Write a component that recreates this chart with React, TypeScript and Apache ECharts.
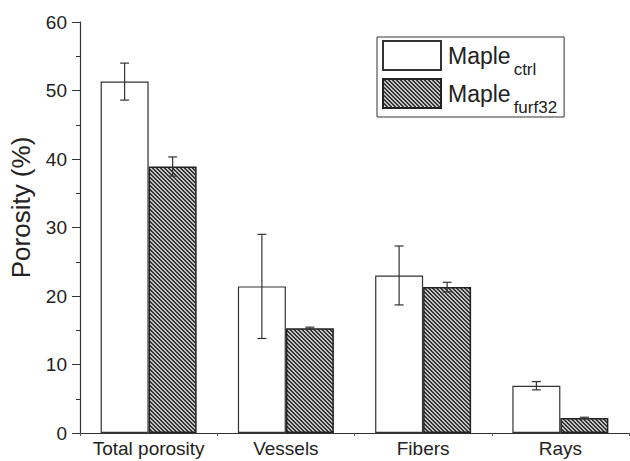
import React, { useEffect, useRef } from "react";
import * as echarts from "echarts";

const categories = ["Total porosity", "Vessels", "Fibers", "Rays"];
const ctrlValues = [51.3, 21.4, 23.0, 6.9];
const ctrlErrors = [2.7, 7.6, 4.3, 0.6];
const furfValues = [38.9, 15.3, 21.3, 2.2];
const furfErrors = [1.4, 0.15, 0.7, 0.1];
const yTicks = { min: 0, max: 60, interval: 10 };

const FONT = "'Liberation Sans', Arial, Helvetica, sans-serif";

function makeHatch(): HTMLCanvasElement {
  const size = 4;
  const c = document.createElement("canvas");
  c.width = size;
  c.height = size;
  const ctx = c.getContext("2d")!;
  const img = ctx.createImageData(size, size);
  for (let y = 0; y < size; y++) {
    for (let x = 0; x < size; x++) {
      const k = (x - y + size * 2) % size;
      const dark = k === 0 || k === 1;
      const v = dark ? 0x33 : 0xc4;
      const i = (y * size + x) * 4;
      img.data[i] = v;
      img.data[i + 1] = v;
      img.data[i + 2] = v;
      img.data[i + 3] = 255;
    }
  }
  ctx.putImageData(img, 0, 0);
  return c;
}

export default function App() {
  const ref = useRef<HTMLDivElement>(null);
  useEffect(() => {
    if (!ref.current) return;
    const chart = echarts.init(ref.current, null, { renderer: "svg" });
    const hatch = makeHatch();
    const barW = 48;

    const errSeries = (vals: number[], errs: number[], offset: number) => ({
      type: "custom",
      z: 10,
      silent: true,
      data: vals.map((v, i) => [i, v, errs[i]]),
      renderItem: (params: any, api: any) => {
        const idx = api.value(0);
        const v = api.value(1);
        const e = api.value(2);
        const x = api.coord([idx, v])[0] + offset;
        const yHi = api.coord([idx, v + e])[1];
        const yLo = api.coord([idx, v - e])[1];
        const cap = 4.5;
        const st = { stroke: "#333", lineWidth: 1.2 };
        return {
          type: "group",
          children: [
            { type: "line", shape: { x1: x, y1: yHi, x2: x, y2: yLo }, style: st },
            { type: "line", shape: { x1: x - cap, y1: yHi, x2: x + cap, y2: yHi }, style: st },
            { type: "line", shape: { x1: x - cap, y1: yLo, x2: x + cap, y2: yLo }, style: st },
          ],
        };
      },
    });

    chart.setOption({
      animation: false,
      backgroundColor: "#ffffff",
      textStyle: { fontFamily: FONT },
      grid: { left: 78, right: 1, top: 22, bottom: 28 },
      legend: {
        data: ["ctrl", "furf32"],
        orient: "vertical",
        left: 377,
        top: 37,
        icon: "rect",
        itemWidth: 58,
        itemHeight: 29,
        itemGap: 0,
        padding: [3, 7, 1, 5],
        borderColor: "#333",
        borderWidth: 1,
        selectedMode: false,
        formatter: (name: string) => `{a|Maple}{b|${name}}`,
        textStyle: {
          rich: {
            a: { fontSize: 23, color: "#222", fontFamily: FONT, lineHeight: 29, padding: [0, 1, 0, 2] },
            b: { fontSize: 17, color: "#222", fontFamily: FONT, verticalAlign: "bottom", lineHeight: 5, padding: [0, 0, -8, 2] },
          },
        },
      },
      xAxis: {
        type: "category",
        data: categories,
        axisLine: { lineStyle: { color: "#333", width: 1.2 } },
        axisTick: { show: true, length: 3, lineStyle: { color: "#555" } },
        axisLabel: { fontSize: 19, color: "#222", margin: 6, fontFamily: FONT, interval: 0 },
      },
      yAxis: {
        type: "value",
        min: yTicks.min,
        max: yTicks.max,
        interval: yTicks.interval,
        name: "Porosity (%)",
        nameLocation: "middle",
        nameGap: 46,
        nameTextStyle: { fontSize: 26, color: "#222", fontFamily: FONT, padding: [0, 0, 0, 40] },
        axisLine: { show: true, lineStyle: { color: "#333", width: 1.2 } },
        axisTick: { show: true, length: 8, lineStyle: { color: "#333" } },
        minorTick: { show: true, splitNumber: 2, length: 4, lineStyle: { color: "#333" } },
        splitLine: { show: false },
        axisLabel: { fontSize: 19, color: "#222", margin: 13, fontFamily: FONT },
      },
      series: [
        {
          name: "ctrl",
          type: "bar",
          data: ctrlValues,
          barWidth: barW,
          barGap: "0%",
          itemStyle: { color: "#ffffff", borderColor: "#333", borderWidth: 1.2 },
        },
        {
          name: "furf32",
          type: "bar",
          data: furfValues,
          barWidth: barW,
          barGap: "0%",
          itemStyle: {
            color: { image: hatch, repeat: "repeat", imageWidth: 4, imageHeight: 4 },
            borderColor: "#222",
            borderWidth: 1.5,
          },
        },
        errSeries(ctrlValues, ctrlErrors, -barW / 2),
        errSeries(furfValues, furfErrors, barW / 2),
      ],
    });
    return () => chart.dispose();
  }, []);
  return <div ref={ref} style={{ position: "fixed", left: 0, top: 0, width: 630, height: 461 }} />;
}
